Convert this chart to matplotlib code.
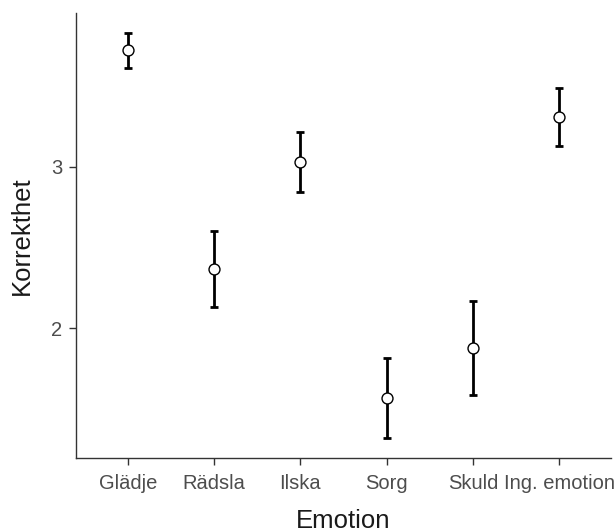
import matplotlib
matplotlib.use("Agg")
import matplotlib.pyplot as plt

categories = ["Glädje", "Rädsla", "Ilska", "Sorg", "Skuld", "Ing. emotion"]
means = [3.720, 2.367, 3.029, 1.567, 1.876, 3.309]
upper = [3.827, 2.604, 3.215, 1.814, 2.171, 3.489]
lower = [3.613, 2.134, 2.845, 1.319, 1.587, 3.130]

plt.rcParams['font.family'] = ['Liberation Sans', 'DejaVu Sans']

fig = plt.figure(figsize=(6.16, 5.31), dpi=100)
ax = fig.add_axes([76/616, 1-458.3/531, (611-76)/616, (458.3-13.3)/531])

x = list(range(1, len(categories)+1))
yerr = [[m - l for m, l in zip(means, lower)], [u - m for m, u in zip(means, upper)]]
ax.errorbar(x, means, yerr=yerr, fmt='none', ecolor='black', elinewidth=2.0,
            capsize=3, capthick=2.0, zorder=2)
ax.scatter(x, means, s=62, facecolor='white', edgecolor='black', linewidth=1.0, zorder=3)

ax.set_xlim(0.4, 6.6)
ax.set_ylim(1.196, 3.949)
ax.set_xticks(x)
ax.set_xticklabels(categories)
ax.set_yticks([2, 3])
ax.set_yticklabels(["2", "3"])

for s in ['top', 'right']:
    ax.spines[s].set_visible(False)
for s in ['left', 'bottom']:
    ax.spines[s].set_color('#333333')
    ax.spines[s].set_linewidth(1.0)
ax.tick_params(axis='both', colors='#333333', length=5, width=1.0,
               labelsize=14.5, labelcolor='#4D4D4D')
ax.tick_params(axis='x', pad=6.5)
ax.tick_params(axis='y', pad=5)

ax.set_xlabel("Emotion", fontsize=18.5, color='#1a1a1a', labelpad=11)
ax.set_ylabel("Korrekthet", fontsize=18.5, color='#1a1a1a', labelpad=12)

fig.savefig("out.png", dpi=100)
